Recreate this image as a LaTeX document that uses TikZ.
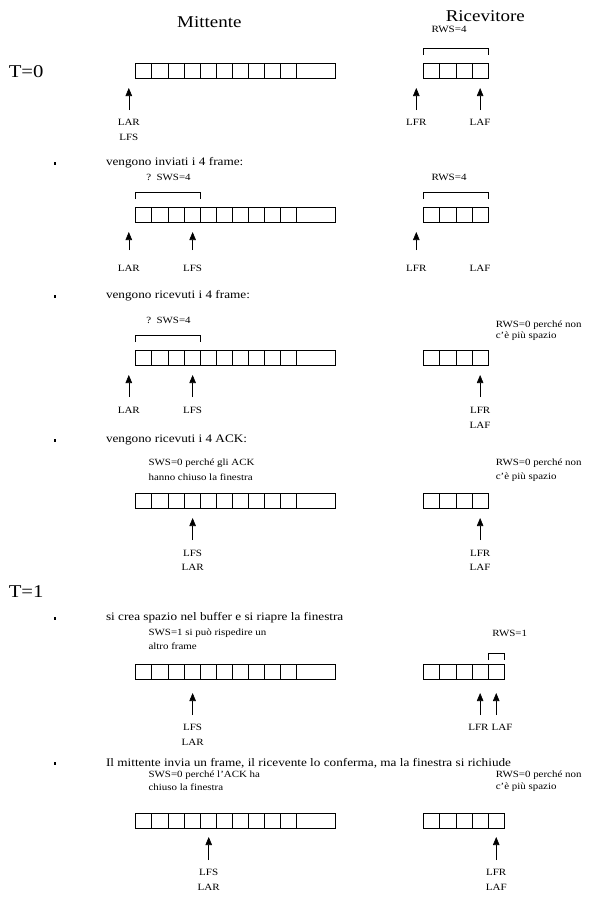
\documentclass[tikz,border=0pt]{standalone}
\usepackage{fontspec}
\setmainfont{Liberation Serif}[FakeStretch=1.15]
\usetikzlibrary{arrows.meta}
\newcommand\senderbuf[2]{%
  \draw[buf] (118,#2) rectangle (292,#2+15);
  \foreach \i in {1,...,10}{\draw[buf] (118+14*\i,#2) -- (118+14*\i,#2+15);}
  \coordinate (#1) at (118,#2);}
\newcommand\recvbuf[3]{%
  \draw[buf] (368.5,#2) rectangle (368.5+14*#3,#2+15);
  \foreach \i in {2,...,#3}{\draw[buf] (354.5+14*\i,#2) -- (354.5+14*\i,#2+15);}
  \coordinate (#1) at (368.5,#2);}
\newcommand\ptrarrow[4]{%
  \coordinate (#1b) at (#2,#4);
  \coordinate (#1t) at (#2,#3);
  \draw[ptr] (#1b) -- (#1t);}
\newcommand\brk[4]{%
  \coordinate (#1l) at (#2,#4+7);
  \coordinate (#1r) at (#3,#4+7);
  \draw[brkline] (#1l) -- (#2,#4) -- (#3,#4) -- (#1r);}
\begin{document}
\begin{tikzpicture}[x=1.15pt,y=-1pt,
  buf/.style={line width=0.8pt},
  brkline/.style={line width=0.8pt},
  ptr/.style={line width=0.6pt,-{Triangle[width=6.5pt,length=8pt]}},
  lab/.style={font=\fontsize{9.6}{10}\selectfont,inner sep=0},
  note/.style={font=\fontsize{9.5}{10}\selectfont,inner sep=0,anchor=west},
  body/.style={font=\fontsize{11.5}{13}\selectfont,inner sep=0,anchor=west},
  title/.style={font=\fontsize{16.5}{18}\selectfont,inner sep=0},
  tlab/.style={font=\fontsize{18}{20}\selectfont,inner sep=0,anchor=west},
  bul/.style={fill=black,inner sep=0,minimum width=2.4pt,minimum height=3pt}]
\useasboundingbox (0,0) rectangle (521.74,899);
% titles
\node[title] (mitt) at (182,22) {Mittente};
\node[title] (ric) at (422,16) {Ricevitore};
% ---- T=0
\node[tlab] (t0) at (7.5,72) {T=0};
\senderbuf{s1}{63}
\recvbuf{r1}{63}{4}
\brk{rb1}{368.5}{424.5}{48}
\node[lab] (rws1) at (390.5,29.5) {RWS=4};
\ptrarrow{a1}{112}{88}{110}
\ptrarrow{a2}{362}{88}{110}
\ptrarrow{a3}{417.5}{88}{110}
\node[lab] (l1a) at (112,122) {LAR};
\node[lab] (l1b) at (112,137) {LFS};
\node[lab] (l1c) at (362,122) {LFR};
\node[lab] (l1d) at (417.5,122) {LAF};
% ---- sec 2
\node[bul] (b2) at (48,163) {};
\node[body] (tx2) at (92,163) {vengono inviati i 4 frame:};
\node[note] (sws2) at (127,177) {?\ \ SWS=4};
\brk{sb2}{118}{174.5}{192}
\brk{rb2}{368.5}{424.5}{192}
\node[lab] (rws2) at (390.5,177) {RWS=4};
\senderbuf{s2}{207}
\recvbuf{r2}{207}{4}
\ptrarrow{a4}{112}{232}{250}
\ptrarrow{a5}{167.5}{232}{250}
\ptrarrow{a6}{362}{232}{250}
\node[lab] (l2a) at (112,268) {LAR};
\node[lab] (l2b) at (167.5,268) {LFS};
\node[lab] (l2c) at (362,268) {LFR};
\node[lab] (l2d) at (417.5,268) {LAF};
% ---- sec 3
\node[bul] (b3) at (48,296) {};
\node[body] (tx3) at (92,296) {vengono ricevuti i 4 frame:};
\node[note] (sws3) at (127,320) {?\ \ SWS=4};
\brk{sb3}{118}{174.5}{335}
\node[note] (rws3a) at (431,325) {RWS=0 perché non};
\node[note] (rws3b) at (431,336) {c'è più spazio};
\senderbuf{s3}{350}
\recvbuf{r3}{350}{4}
\ptrarrow{a7}{112}{375}{397}
\ptrarrow{a8}{167.5}{375}{397}
\ptrarrow{a9}{417.5}{375}{397}
\node[lab] (l3a) at (112,410) {LAR};
\node[lab] (l3b) at (167.5,410) {LFS};
\node[lab] (l3c) at (417.5,410) {LFR};
\node[lab] (l3d) at (417.5,425) {LAF};
% ---- sec 4
\node[bul] (b4) at (48,440) {};
\node[body] (tx4) at (92,440) {vengono ricevuti i 4 ACK:};
\node[note] (sws4a) at (129,463) {SWS=0 perché gli ACK};
\node[note] (sws4b) at (129,477) {hanno chiuso la finestra};
\node[note] (rws4a) at (431,463) {RWS=0 perché non};
\node[note] (rws4b) at (431,477) {c'è più spazio};
\senderbuf{s4}{493}
\recvbuf{r4}{493}{4}
\ptrarrow{a10}{167.5}{518}{540}
\ptrarrow{a11}{417.5}{518}{540}
\node[lab] (l4a) at (167.5,553) {LFS};
\node[lab] (l4b) at (167.5,567) {LAR};
\node[lab] (l4c) at (417.5,553) {LFR};
\node[lab] (l4d) at (417.5,567) {LAF};
% ---- T=1
\node[tlab] (t1) at (7.5,592) {T=1};
% ---- sec 5
\node[bul] (b5) at (48,618) {};
\node[body] (tx5) at (92,618) {si crea spazio nel buffer e si riapre la finestra};
\node[note] (sws5a) at (129,633) {SWS=1 si può rispedire un};
\node[note] (sws5b) at (129,646) {altro frame};
\node[note] (rws5) at (428,633) {RWS=1};
\brk{rb5}{424.5}{438.5}{653}
\senderbuf{s5}{664}
\recvbuf{r5}{664}{5}
\ptrarrow{a12}{167.5}{693}{715}
\ptrarrow{a13}{417.5}{693}{715}
\ptrarrow{a14}{431.5}{693}{715}
\node[lab] (l5a) at (167.5,727) {LFS};
\node[lab] (l5b) at (167.5,742) {LAR};
\node[lab] (l5c) at (416,727) {LFR};
\node[lab] (l5d) at (436.5,727) {LAF};
% ---- sec 6
\node[bul] (b6) at (48,763) {};
\node[body] (tx6) at (92,763) {Il mittente invia un frame, il ricevente lo conferma, ma la finestra si richiude};
\node[note] (sws6a) at (129,775) {SWS=0 perché l'ACK ha};
\node[note] (sws6b) at (129,787) {chiuso la finestra};
\node[note] (rws6a) at (431,775) {RWS=0 perché non};
\node[note] (rws6b) at (431,787) {c'è più spazio};
\senderbuf{s6}{813}
\recvbuf{r6}{813}{5}
\ptrarrow{a15}{181.5}{837}{860}
\ptrarrow{a16}{431.5}{837}{860}
\node[lab] (l6a) at (181.5,872) {LFS};
\node[lab] (l6b) at (181.5,887) {LAR};
\node[lab] (l6c) at (431.5,872) {LFR};
\node[lab] (l6d) at (431.5,887) {LAF};
\end{tikzpicture}
\end{document}
